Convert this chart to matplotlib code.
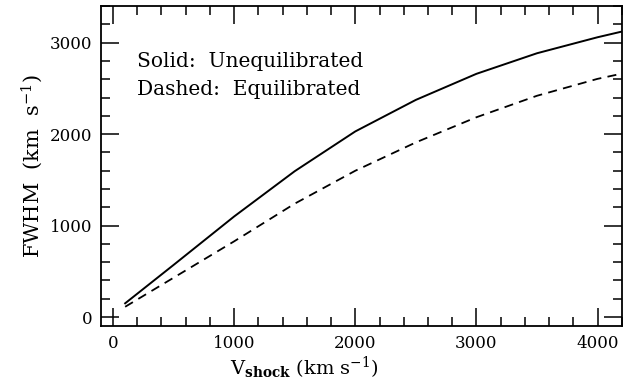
import matplotlib
matplotlib.use('Agg')
import matplotlib.pyplot as plt
from matplotlib.ticker import MultipleLocator

# shock velocity grid (km/s) and FWHM (km/s)
v_shock = [100, 500, 1000, 1500, 2000, 2500, 3000, 3500, 4000, 4200]
fwhm_unequil = [150, 570, 1100, 1595, 2030, 2375, 2660, 2885, 3060, 3122]
fwhm_equil = [112, 430, 828, 1240, 1600, 1910, 2185, 2420, 2605, 2662]

plt.rcParams['font.family'] = 'DejaVu Serif'
plt.rcParams['mathtext.fontset'] = 'dejavuserif'

fig = plt.figure(figsize=(6.23, 3.86), dpi=100)
ax = fig.add_axes([0.162, 0.155, 0.836, 0.829])

ax.plot(v_shock, fwhm_unequil, color='black', lw=1.4)
ax.plot(v_shock, fwhm_equil, color='black', lw=1.3, dashes=(5, 3.5))

ax.set_xlim(-100, 4200)
ax.set_ylim(-100, 3400)

ax.xaxis.set_major_locator(MultipleLocator(1000))
ax.xaxis.set_minor_locator(MultipleLocator(200))
ax.yaxis.set_major_locator(MultipleLocator(1000))
ax.yaxis.set_minor_locator(MultipleLocator(200))
ax.tick_params(which='both', direction='in', top=True, right=True,
               labelsize=12, width=1.1)
ax.tick_params(which='major', length=13, pad=6)
ax.tick_params(which='minor', length=6.5)
for s in ax.spines.values():
    s.set_linewidth(1.3)

ax.set_xlabel(r'V$_{\mathbf{shock}}$ (km s$^{-1}$)', fontsize=14)
ax.xaxis.set_label_coords(0.39, -0.088)
ax.set_ylabel(r'FWHM  (km  s$^{-1}$)', fontsize=15, labelpad=4)

ax.text(0.069, 0.809, 'Solid:  Unequilibrated', transform=ax.transAxes,
        fontsize=14.5, va='baseline')
ax.text(0.069, 0.722, 'Dashed:  Equilibrated', transform=ax.transAxes,
        fontsize=14.5, va='baseline')

fig.savefig('out.png', dpi=100)
